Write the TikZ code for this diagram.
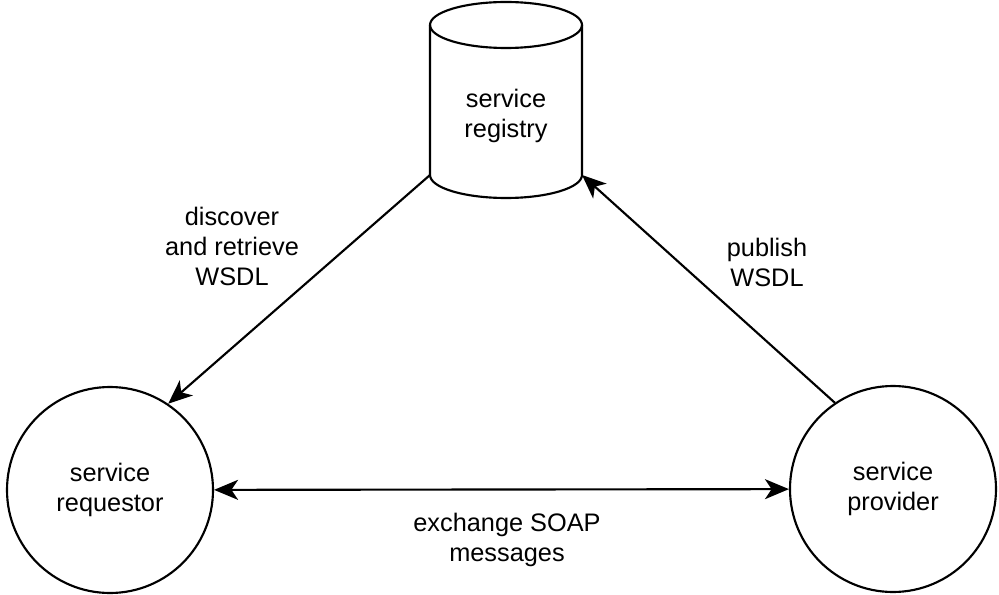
\documentclass[tikz,border=0pt]{standalone}
\usepackage{fontspec}
\setmainfont{Liberation Sans}
\usetikzlibrary{arrows.meta}
\begin{document}
\begin{tikzpicture}[x=0.75pt,y=-0.75pt,
  line width=1.6pt,
  every node/.style={font=\fontsize{19}{22.5}\selectfont, align=center, text=black},
  party/.style={circle, draw, minimum size=154.5pt, inner sep=0pt, line width=1.6pt},
  >={Stealth[length=18pt,width=15pt,inset=5pt]},
  link/.style={->},
  dualink/.style={<->}]
  \useasboundingbox (0,0) rectangle (999,595);

  % service registry drawn as a cylinder
  \draw (430,25) arc[start angle=180, end angle=-180, x radius=76, y radius=23];
  \draw (430,25) -- (430,175) arc[start angle=180, end angle=0, x radius=76, y radius=23] -- (582,25);
  \node (reg) at (506,116) {service\\registry};
  \coordinate (regBL) at (430,175);
  \coordinate (regBR) at (582,175);

  % the two parties
  \node[party] (req) at (110,490) {service\\requestor};
  \node[party] (prov) at (893,489) {service\\provider};

  % connectors
  \draw[link] (regBL) -- (req.56.6);
  \draw[link] (prov.124) -- (regBR);
  \draw[dualink] (req) -- (prov);

  % connector labels
  \node (lblDiscover) at (232,246) {discover\\and retrieve\\WSDL};
  \node (lblPublish) at (767,262) {publish\\WSDL};
  \node (lblExchange) at (507,540) {exchange SOAP\\messages};
\end{tikzpicture}
\end{document}
